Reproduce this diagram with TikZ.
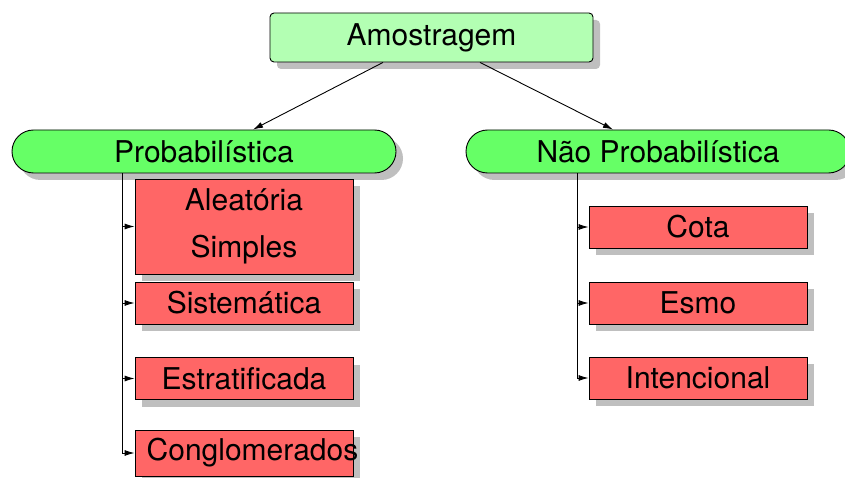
\documentclass[tikz,border=0pt]{standalone}
\usepackage{fontspec}
\setmainfont{TeX Gyre Heros}
\usetikzlibrary{shadows,shapes.misc,arrows.meta}
\definecolor{lgreen}{HTML}{B3FFB3}
\definecolor{mgreen}{HTML}{66FF66}
\definecolor{lred}{HTML}{FF6666}
\begin{document}
\begin{tikzpicture}[x=1pt,y=-1pt,
  shad/.style={drop shadow={shadow xshift=7pt,shadow yshift=-7pt,fill=black!25,opacity=1}},
  txt/.style={font=\fontsize{30}{47}\selectfont},
  topbox/.style={draw,fill=lgreen,rounded corners=4pt,minimum width=323pt,minimum height=49pt,inner sep=0pt,shad,txt},
  catbox/.style={draw,fill=mgreen,rounded rectangle,minimum width=384pt,minimum height=43pt,inner sep=0pt,shad,txt},
  leafbox/.style={draw,fill=lred,minimum width=218pt,minimum height=42pt,inner sep=0pt,shad,txt},
  arr/.style={-{Latex[length=10pt,width=6pt]},line width=0.9pt},
  line width=0.9pt]
\useasboundingbox (0,0) rectangle (845,478);
\node[topbox] (am) at (431.5,37.5) {Amostragem};
\node[catbox] (pb) at (204,151.5) {Probabilística};
\node[catbox] (np) at (658,151.5) {Não Probabilística};
\node[leafbox,minimum height=95pt,align=center] (al) at (244,226.5) {Aleatória\\Simples};
\node[leafbox] (si) at (244,303) {Sistemática};
\node[leafbox] (es) at (244,378.5) {Estratificada};
\node[leafbox,minimum height=46pt] (co) at (244,453) {};
\node[txt,inner sep=0pt] (cot) at (252.5,453) {Conglomerados};
\node[leafbox] (ct) at (698,227) {Cota};
\node[leafbox] (em) at (698,303) {Esmo};
\node[leafbox] (in) at (698,378) {Intencional};
\coordinate (lx) at (122,0);
\coordinate (rx) at (577,0);
\draw[arr] ([xshift=-48.5pt]am.south) -- ([xshift=49pt]pb.north);
\draw[arr] ([xshift=48.5pt]am.south) -- ([xshift=-45pt]np.north);
\draw[arr] (pb.south -| lx) |- (al.west);
\draw[arr] (pb.south -| lx) |- (si.west);
\draw[arr] (pb.south -| lx) |- (es.west);
\draw[arr] (pb.south -| lx) |- (co.west);
\draw[arr] (np.south -| rx) |- (ct.west);
\draw[arr] (np.south -| rx) |- (em.west);
\draw[arr] (np.south -| rx) |- (in.west);
\end{tikzpicture}
\end{document}
